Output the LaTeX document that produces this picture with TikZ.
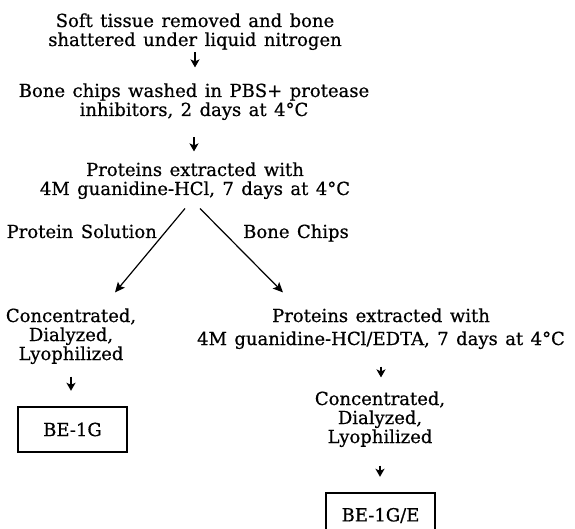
\documentclass[tikz,border=0pt]{standalone}
\usepackage{fontspec}
\setmainfont{DejaVu Serif}[WordSpace=1.3, FakeBold=0.6]
\usetikzlibrary{arrows.meta,calc}
\begin{document}
\begin{tikzpicture}[x=1pt,y=-1pt,
  txt/.style={inner sep=0pt, anchor=base, align=center, font=\fontsize{18}{19}\selectfont},
  lbl/.style={inner sep=0pt, font=\fontsize{18}{19}\selectfont},
  arr/.style={line width=1.5pt, -{Stealth[length=8pt,width=9pt,inset=2pt]}},
  branch/.style={line width=1.2pt, -{Stealth[length=10pt,width=9pt,inset=2pt]}},
  res/.style={draw, line width=2.4pt, minimum width=109pt, minimum height=45pt, inner sep=0pt, font=\fontsize{18}{19}\selectfont}
]
\useasboundingbox (0,0) rectangle (575,529);
\clip (0,0) rectangle (575,529);

\node[txt] (n1) at (195,46) {Soft tissue removed and bone\\shattered under liquid nitrogen};
\node[txt] (n2) at (194,116) {Bone chips washed in PBS+ protease\\inhibitors, 2 days at 4°C};
\node[txt] (n3) at (195,195) {Proteins extracted with\\4M guanidine-HCl, 7 days at 4°C};
\node[lbl, anchor=base east] (ps) at (157,238) {Protein Solution};
\node[lbl, anchor=base west] (bc) at (243,238) {Bone Chips};
\node[txt] (n4) at (71,360) {Concentrated,\\Dialyzed,\\Lyophilized};
\node[txt] (n5) at (381,345) {Proteins extracted with\\[4pt]4M guanidine-HCl/EDTA, 7 days at 4°C};
\node[res] (b1) at (72.5,429.5) {BE-1G};
\node[txt] (n6) at (380,443) {Concentrated,\\Dialyzed,\\Lyophilized};
\node[res] (b2) at (380.5,515.5) {BE-1G/E};

\draw[arr, shorten <=2.3pt, shorten >=15.7pt] (n1.south) -- (n1.south |- n2.north);
\draw[arr, shorten <=17.3pt, shorten >=10.7pt] (n2.south) -- (n2.south |- n3.north);
\draw[arr, shorten <=12.3pt, shorten >=15pt] (n4.south) -- (n4.south |- b1.north);
\draw[arr, shorten <=17.3pt, shorten >=13.7pt] (n5.south) -- (n5.south |- n6.north);
\draw[arr, shorten <=18.3pt, shorten >=15pt] (n6.south) -- (n6.south |- b2.north);

\draw[branch] ([xshift=-10pt,yshift=-9.3pt]n3.south) -- ([xshift=44pt,yshift=15.7pt]n4.north);
\draw[branch] ([xshift=5pt,yshift=-9.3pt]n3.south) -- ([xshift=-98pt,yshift=15.7pt]n5.north);
\end{tikzpicture}
\end{document}
